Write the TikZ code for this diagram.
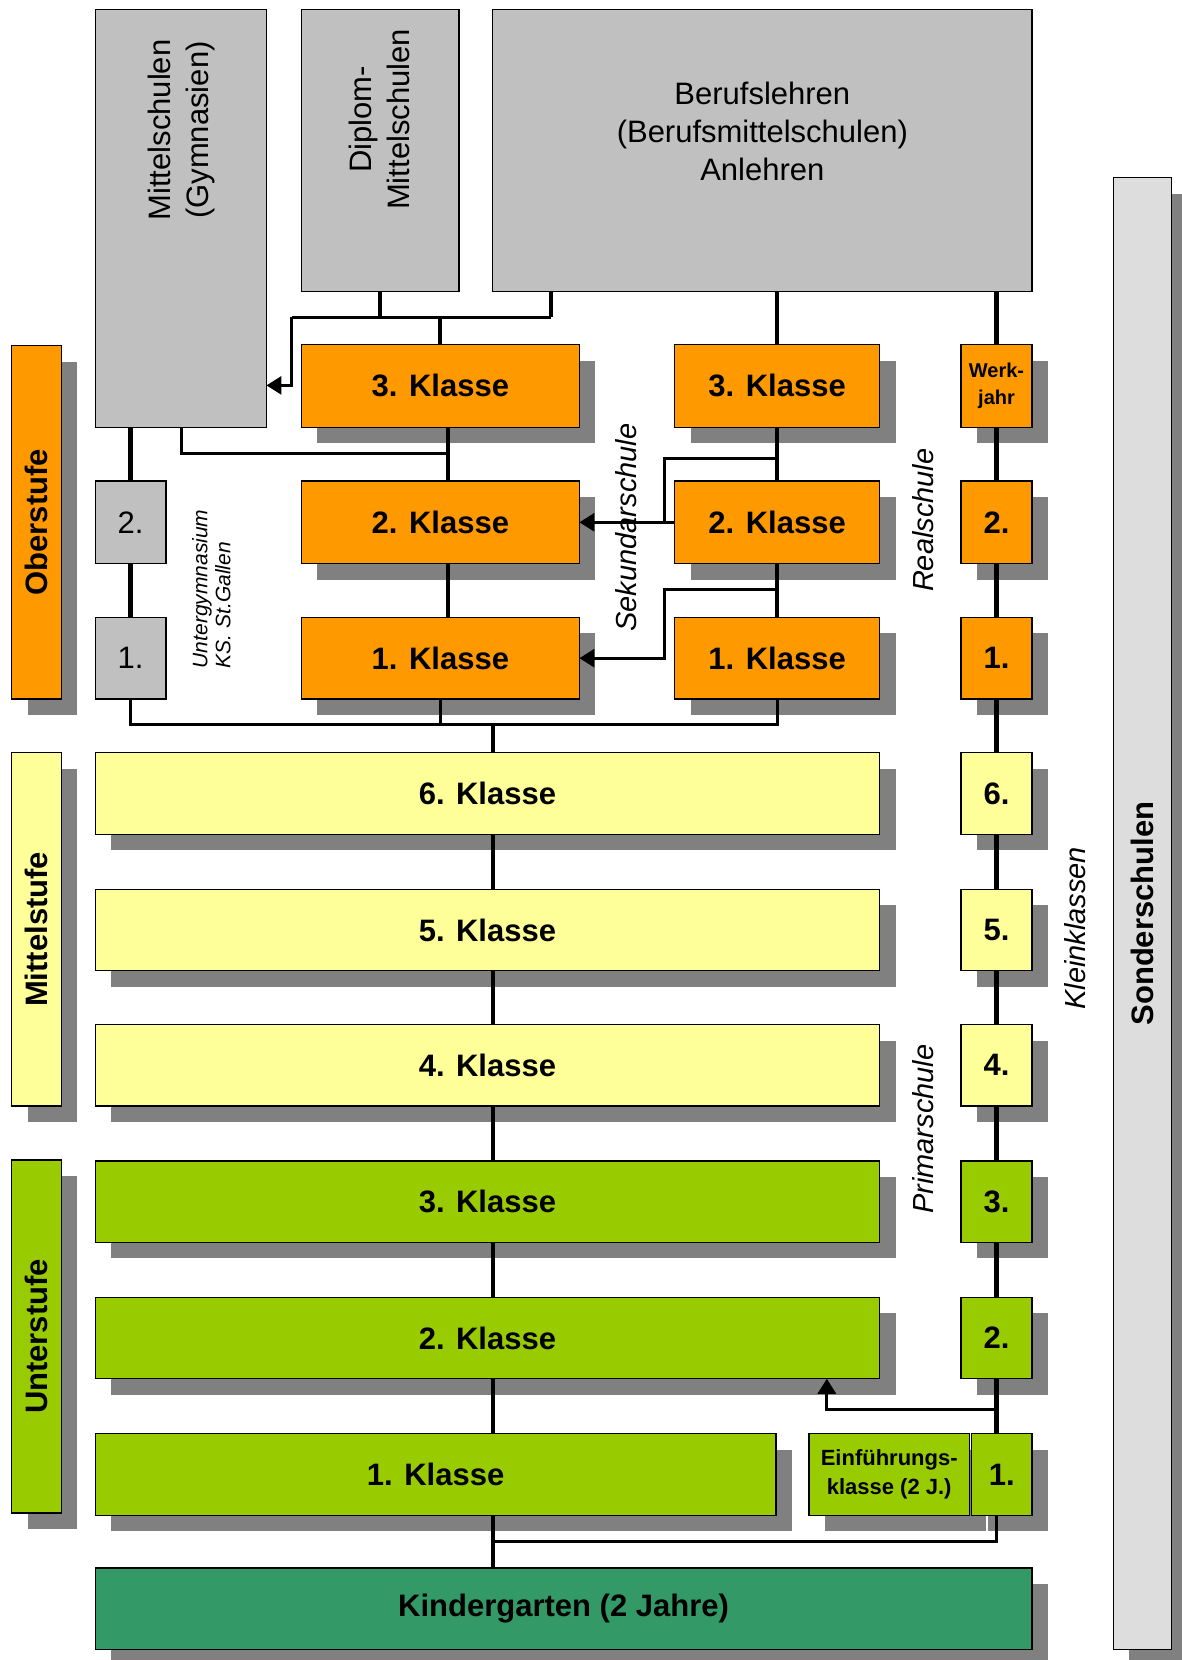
\documentclass[tikz,border=0pt]{standalone}
\usepackage{fontspec}
\setmainfont{Liberation Sans}
\usetikzlibrary{fit,shadows,arrows.meta,calc}
\definecolor{orng}{HTML}{FF9900}
\definecolor{yllw}{HTML}{FFFF99}
\definecolor{grn}{HTML}{99CC00}
\definecolor{gry}{HTML}{C0C0C0}
\definecolor{shd}{HTML}{808080}
\definecolor{kg}{HTML}{339966}
\definecolor{sond}{HTML}{DDDDDD}
\begin{document}
\begin{tikzpicture}[x=1.0573pt,y=-1.0573pt,
  box/.style={draw=black,line width=1.3pt,inner sep=0pt,outer sep=0pt},
  sh/.style={drop shadow={shadow xshift=16pt,shadow yshift=-16pt,fill=shd,opacity=1}},
  ob/.style={box,sh,fill=orng},
  yb/.style={box,sh,fill=yllw},
  gb/.style={box,sh,fill=grn},
  grb/.style={box,fill=gry},
  bigb/.style={font={\fontsize{31}{37}\selectfont\bfseries}},
  bigr/.style={font={\fontsize{31}{38}\selectfont}},
  ital/.style={font={\fontsize{29}{35}\selectfont\itshape}},
  tb/.style={label={[bigb]center:{#1}}},
  tr/.style={label={[bigr]center:{#1}}},
  conn/.style={draw=black,line width=4.2pt},
  branch/.style={draw=black,line width=3pt},
  arr/.style={-{Triangle[length=15pt,width=18pt]}}
]
\useasboundingbox (0,0) rectangle (1117,1570);

% stage bars
\node[ob,fit={(11,327) (58,661)}] (ober) {};
\node[yb,fit={(11,712) (58,1046)}] (mittel) {};
\node[gb,fit={(11,1097) (58,1431)}] (unter) {};
\node[bigb,rotate=90] (obertxt) at (ober.center) {Oberstufe};
\node[bigb,rotate=90] (mitteltxt) at (mittel.center) {Mittelstufe};
\node[bigb,rotate=90] (untertxt) at (unter.center) {Unterstufe};

% top grey boxes
\node[grb,fit={(90,9) (252,404)}] (gym) {};
\node[grb,fit={(285,9) (434,276)}] (dms) {};
\node[grb,fit={(466,9) (976,276)}] (beruf) {};
\node[bigr,rotate=90,align=center] (gymtxt) at (172,123) {Mittelschulen\\(Gymnasien)};
\node[bigr,rotate=90,align=center] (dmstxt) at (359,113) {Diplom-\\Mittelschulen};
\node[bigr,align=center] (beruftxt) at (721,124) {Berufslehren\\(Berufsmittelschulen)\\Anlehren};

% Sekundarschule
\node[ob,tb={3. Klasse},fit={(285,326) (548,404)}] (sek3) {};
\node[ob,tb={2. Klasse},fit={(285,455) (548,533)}] (sek2) {};
\node[ob,tb={1. Klasse},fit={(285,584) (548,661)}] (sek1) {};
% Realschule
\node[ob,tb={3. Klasse},fit={(638,326) (832,404)}] (real3) {};
\node[ob,tb={2. Klasse},fit={(638,455) (832,533)}] (real2) {};
\node[ob,tb={1. Klasse},fit={(638,584) (832,661)}] (real1) {};
% Kleinklassen column
\node[ob,label={[align=center,font={\fontsize{20}{27}\selectfont\bfseries}]center:{Werk-\\jahr}},fit={(909,326) (976,404)}] (werk) {};
\node[ob,tb={2.},fit={(909,455) (976,533)}] (r2) {};
\node[ob,tb={1.},fit={(909,584) (976,661)}] (r1) {};
% Untergymnasium
\node[grb,tr={2.},fit={(90,455) (157,533)}] (ug2) {};
\node[grb,tr={1.},fit={(90,584) (157,661)}] (ug1) {};
\node[rotate=90,align=left,font={\fontsize{21}{23}\selectfont\itshape}] (ugtxt) at (200,557) {Untergymnasium\\KS. St.Gallen};

% Mittelstufe
\node[yb,tb={6. Klasse},fit={(90,712) (832,789)}] (k6) {};
\node[yb,tb={5. Klasse},fit={(90,841) (832,918)}] (k5) {};
\node[yb,tb={4. Klasse},fit={(90,969) (832,1046)}] (k4) {};
\node[yb,tb={6.},fit={(909,712) (976,789)}] (s6) {};
\node[yb,tb={5.},fit={(909,841) (976,918)}] (s5) {};
\node[yb,tb={4.},fit={(909,969) (976,1046)}] (s4) {};

% Unterstufe
\node[gb,tb={3. Klasse},fit={(90,1098) (832,1175)}] (k3) {};
\node[gb,tb={2. Klasse},fit={(90,1227) (832,1304)}] (k2) {};
\node[gb,tb={1. Klasse},fit={(90,1356) (734,1433)}] (k1) {};
\node[gb,tb={3.},fit={(909,1098) (976,1175)}] (s3) {};
\node[gb,tb={2.},fit={(909,1227) (976,1304)}] (s2) {};
\node[gb,label={[align=center,font={\fontsize{22}{29}\selectfont\bfseries}]center:{Einführungs-\\klasse (2 J.)}},fit={(765,1356) (917,1433)}] (einf) {};
\node[gb,tb={1.},fit={(919,1356) (976,1433)}] (s1) {};

% Kindergarten and Sonderschulen
\node[box,sh,fill=kg,tb={Kindergarten (2 Jahre)},fit={(90,1483) (976,1560)}] (kiga) {};
\node[box,sh,fill=sond,fit={(1053,168) (1108,1560)}] (sonder) {};
\node[bigb,rotate=90] (sondertxt) at (sonder.center) {Sonderschulen};

% italic side labels
\node[ital,rotate=90] (sektxt) at (592,499) {Sekundarschule};
\node[ital,rotate=90] (realtxt) at (873,492) {Realschule};
\node[ital,rotate=90] (primtxt) at (873,1068) {Primarschule};
\node[ital,rotate=90] (kleintxt) at (1017,878) {Kleinklassen};

% junction coordinates
\coordinate (jtop) at (416,300);
\coordinate (bl) at (521,300);
\coordinate (ga) at (276,300);
\coordinate (gbb) at (276,364.5);
\coordinate (gx) at (172,428.5);
\coordinate (sx) at (424,428.5);
\coordinate (rb1) at (628,433.5);
\coordinate (rb2) at (628,558);
\coordinate (jb) at (466,685);
\coordinate (eb) at (782,1333);
\coordinate (jk) at (466,1458);
\coordinate (col) at (942.5,0);

% top connectors
\draw[conn] (dms.south) -- (dms.south |- jtop);
\draw[conn] (bl |- beruf.south) -- (bl);
\draw[branch] (bl) -- (ga);
\draw[branch,arr] (ga) -- (gbb) -- (gym.east |- gbb);
\draw[conn] (sek3.north |- jtop) -- (sek3.north);
\draw[conn] (real3.north |- beruf.south) -- (real3.north);
\draw[conn] (col |- beruf.south) -- (col |- werk.north);

% Gymnasium / Untergymnasium
\draw[conn] (ug2.north |- gym.south) -- (ug2.north);
\draw[conn] (ug2.south) -- (ug1.north);
\draw[branch] (gx |- gym.south) -- (gx) -- (sx);
\draw[conn] (sx |- sek3.south) -- (sx |- sek2.north);
\draw[conn] (sx |- sek2.south) -- (sx |- sek1.north);

% Realschule
\draw[conn] (real3.south) -- (real2.north);
\draw[conn] (real2.south) -- (real1.north);
\draw[branch] (real3.south |- rb1) -- (rb1) -- (rb1 |- real2.west);
\draw[branch,arr] (real2.west) -- (sek2.east);
\draw[branch,arr] (real2.south |- rb2) -- (rb2) -- (rb2 |- sek1.east) -- (sek1.east);

% right column
\draw[conn] (col |- werk.south) -- (col |- r2.north);
\draw[conn] (col |- r2.south) -- (col |- r1.north);
\draw[conn] (col |- r1.south) -- (col |- s6.north);
\draw[conn] (col |- s6.south) -- (col |- s5.north);
\draw[conn] (col |- s5.south) -- (col |- s4.north);
\draw[conn] (col |- s4.south) -- (col |- s3.north);
\draw[conn] (col |- s3.south) -- (col |- s2.north);
\draw[conn] (col |- s2.south) -- (col |- s1.north);
\draw[branch,arr] (col |- eb) -- (eb) -- (eb |- k2.south);

% Oberstufe -> Mittelstufe
\draw[branch] (ug1.south) -- (ug1.south |- jb) -- (real1.south |- jb) -- (real1.south);
\draw[branch] (sek1.south) -- (sek1.south |- jb);
\draw[conn] (jb) -- (jb |- k6.north);
\draw[conn] (jb |- k6.south) -- (jb |- k5.north);
\draw[conn] (jb |- k5.south) -- (jb |- k4.north);
\draw[conn] (jb |- k4.south) -- (jb |- k3.north);
\draw[conn] (jb |- k3.south) -- (jb |- k2.north);
\draw[conn] (jb |- k2.south) -- (jb |- k1.north);
\draw[conn] (jb |- k1.south) -- (jb |- kiga.north);
\draw[branch] (col |- s1.south) -- (col |- jk) -- (jk);
\end{tikzpicture}
\end{document}
